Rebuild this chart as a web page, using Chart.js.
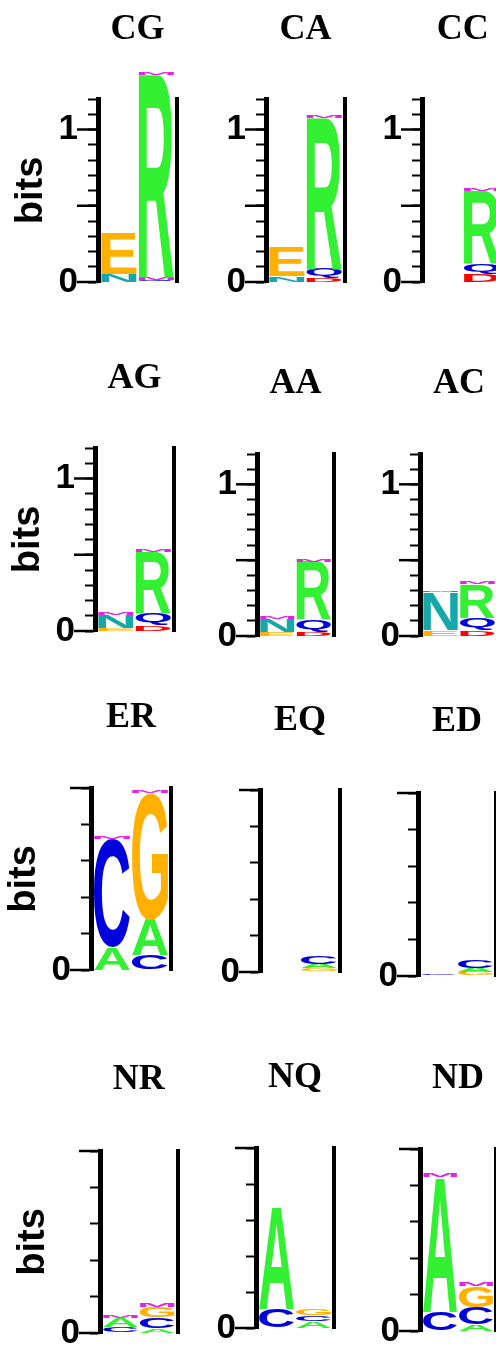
<!DOCTYPE html>
<html>
<head>
<meta charset="utf-8">
<script src="https://cdn.jsdelivr.net/npm/chart.js@4.4.1/dist/chart.umd.min.js"></script>
<style>
html,body{margin:0;padding:0;background:#fff;overflow:hidden;width:496px;height:1352px;position:relative;}
.panel{position:absolute;}
</style>
</head>
<body>
<script>
// ---------- DATA (letters bottom -> top, heights in bits; position 1 and position 2) ----------
const panelTitles = ['CG','CA','CC','AG','AA','AC','ER','EQ','ED','NR','NQ','ND'];
const positions = ['1','2'];

const CG_letters = [['N','E'], ['Q','M','R','M']];
const CG_bits    = [[0.05, 0.265], [0.012, 0.018, 1.33, 0.015]];
const CA_letters = [['N','E'], ['D','Q','R','M']];
const CA_bits    = [[0.04, 0.19], [0.025, 0.06, 0.99, 0.012]];
const CC_letters = [['D'], ['D','Q','R','M']];
const CC_bits    = [[0.005], [0.05, 0.07, 0.48, 0.012]];

const AG_letters = [['E','N','M'], ['D','Q','R','M']];
const AG_bits    = [[0.02, 0.085, 0.02], [0.04, 0.08, 0.40, 0.02]];
const AA_letters = [['E','N','M'], ['D','Q','R','M']];
const AA_bits    = [[0.025, 0.085, 0.015], [0.03, 0.08, 0.38, 0.015]];
const AC_letters = [['E','N','M'], ['D','Q','R','M']];
const AC_bits    = [[0.04, 0.25, 0.01], [0.04, 0.08, 0.22, 0.012]];

const ER_letters = [['A','C','M'], ['C','A','G','M']];
const ER_bits    = [[0.125, 0.595, 0.012], [0.08, 0.196, 0.698, 0.01]];
const EQ_letters = [['C'], ['G','A','C']];
const EQ_bits    = [[0.004], [0.02, 0.025, 0.04]];
const ED_letters = [['C'], ['G','A','C']];
const ED_bits    = [[0.012], [0.02, 0.025, 0.045]];

const NR_letters = [['C','A','M'], ['A','C','G','M']];
const NR_bits    = [[0.032, 0.048, 0.015], [0.025, 0.06, 0.06, 0.022]];
const NQ_letters = [['C','A'], ['A','C','G']];
const NQ_bits    = [[0.107, 0.572], [0.037, 0.032, 0.037]];
const ND_letters = [['C','A','M'], ['A','C','G','M']];
const ND_bits    = [[0.105, 0.74, 0.022], [0.035, 0.095, 0.115, 0.022]];

// axis per row
const rowMax      = [1.2, 1.2, 1, 1];
const rowStep     = [0.1, 0.1, 0.2, 0.2];
const rowLabelled = [[0, 1], [0, 1], [0], [0]];
const rowMajor    = [[0, 0.5, 1], [0, 0.5, 1], [0, 1], [0, 1]];

const allLetters = [CG_letters, CA_letters, CC_letters, AG_letters, AA_letters, AC_letters,
                    ER_letters, EQ_letters, ED_letters, NR_letters, NQ_letters, ND_letters];
const allBits    = [CG_bits, CA_bits, CC_bits, AG_bits, AA_bits, AC_bits,
                    ER_bits, EQ_bits, ED_bits, NR_bits, NQ_bits, ND_bits];

// ---------- LAYOUT (page pixels: axis left, right line, top, zero, title centre) ----------
const panelBox = [
  {L: 98,    R: 177, T: 99,   B: 289,  TY: 30},
  {L: 266,   R: 345, T: 99,   B: 289,  TY: 30},
  {L: 421.5, R: 503, T: 99,   B: 289,  TY: 30},
  {L: 95,    R: 174, T: 448,  B: 638,  TY: 379},
  {L: 257,   R: 334, T: 454,  B: 643,  TY: 384},
  {L: 420,   R: 498, T: 454,  B: 643,  TY: 384},
  {L: 91,    R: 171, T: 788,  B: 977,  TY: 718},
  {L: 260,   R: 340, T: 790,  B: 979,  TY: 721},
  {L: 418,   R: 496, T: 793,  B: 983,  TY: 722},
  {L: 99.5,  R: 177, T: 1151, B: 1340, TY: 1080},
  {L: 256,   R: 334, T: 1148, B: 1335, TY: 1078},
  {L: 420,   R: 496, T: 1149, B: 1338, TY: 1079}
];

const letterColors = {R: '#33f033', A: '#33f033', E: '#ffb000', G: '#ffb000',
                      N: '#16a8a8', Q: '#0000dd', C: '#0000dd', D: '#ff0000', M: '#e622e6'};

// ---------- PLUGINS ----------
const letterPlugin = {
  id: 'logoLetters',
  afterDatasetsDraw(chart) {
    const ctx = chart.ctx;
    chart.data.datasets.forEach((ds, d) => {
      const meta = chart.getDatasetMeta(d);
      meta.data.forEach((el, i) => {
        const ch = ds.letters[i];
        if (!ch) return;
        const p = el.getProps(['x', 'y', 'base', 'width'], true);
        const top = Math.min(p.y, p.base);
        const h = Math.abs(p.base - p.y);
        if (h < 0.2) return;
        const half = p.width / 2;
        const x0 = p.x - half + (i === 0 ? 3 : 1);
        const x1 = p.x + half - (i === positions.length - 1 ? 3 : 1);
        ctx.save();
        ctx.font = 'bold 100px "Liberation Sans"';
        ctx.textAlign = 'left';
        ctx.textBaseline = 'alphabetic';
        const m = ctx.measureText(ch);
        const gw = m.actualBoundingBoxLeft + m.actualBoundingBoxRight;
        const gh = m.actualBoundingBoxAscent + m.actualBoundingBoxDescent;
        ctx.translate(x0, top);
        ctx.scale((x1 - x0) / gw, h / gh);
        ctx.fillStyle = letterColors[ch];
        ctx.fillText(ch, m.actualBoundingBoxLeft, m.actualBoundingBoxAscent);
        ctx.restore();
      });
    });
  }
};

const majorTickPlugin = {
  id: 'majorTicks',
  afterDraw(chart, args, opts) {
    const ctx = chart.ctx;
    const y = chart.scales.y;
    const left = chart.chartArea.left;
    ctx.save();
    ctx.strokeStyle = '#000';
    ctx.lineWidth = 2.5;
    (opts.values || []).forEach(v => {
      const py = y.getPixelForValue(v);
      ctx.beginPath();
      ctx.moveTo(left - 21, py);
      ctx.lineTo(left, py);
      ctx.stroke();
    });
    ctx.restore();
  }
};

// ---------- BUILD ----------
panelTitles.forEach((title, k) => {
  const row = Math.floor(k / 3), col = k % 3;
  const g = panelBox[k];
  const div = document.createElement('div');
  div.className = 'panel';
  const W = g.R - g.L + 98;
  const H = g.B - g.TY + 42;
  div.style.left = (g.L - 90) + 'px';
  div.style.top = (g.TY - 18) + 'px';
  div.style.width = W + 'px';
  div.style.height = H + 'px';
  const cv = document.createElement('canvas');
  div.appendChild(cv);
  document.body.appendChild(div);

  const lets = allLetters[k], bits = allBits[k];
  const K = Math.max(lets[0].length, lets[1].length);
  const datasets = [];
  for (let j = 0; j < K; j++) {
    datasets.push({
      data: [bits[0][j] ?? 0, bits[1][j] ?? 0],
      letters: [lets[0][j] ?? null, lets[1][j] ?? null],
      backgroundColor: 'rgba(0,0,0,0)',
      borderWidth: 0,
      barPercentage: 1,
      categoryPercentage: 1,
      xAxisID: 'x',
      yAxisID: 'y'
    });
  }
  const labelled = rowLabelled[row];
  new Chart(cv, {
    type: 'bar',
    data: {labels: positions, datasets},
    plugins: [letterPlugin, majorTickPlugin],
    options: {
      responsive: true,
      maintainAspectRatio: false,
      animation: false,
      events: [],
      layout: {padding: {left: 0, right: 0, top: 0, bottom: 24}},
      plugins: {
        legend: {display: false},
        tooltip: {enabled: false},
        title: {
          display: true, text: title, fullSize: false, color: '#000',
          font: {family: 'Liberation Serif', size: 36, weight: 'bold', lineHeight: 1},
          padding: {top: 0, bottom: g.T - g.TY - 18}
        },
        majorTicks: {values: rowMajor[row]}
      },
      scales: {
        x: {display: false, stacked: true},
        y: {
          type: 'linear', position: 'left', stacked: true,
          min: 0, max: rowMax[row],
          afterFit: s => { s.width = 90; },
          ticks: {
            stepSize: rowStep[row], autoSkip: false, padding: 10, color: '#000',
            font: {family: 'Liberation Sans', size: 35, weight: 'bold'},
            callback: v => labelled.some(t => Math.abs(t - v) < 1e-6) ? String(Math.round(v)) : ''
          },
          grid: {display: true, drawOnChartArea: false, drawTicks: true, tickLength: 10, tickWidth: 2, tickColor: '#000'},
          border: {display: true, width: 5, color: '#000'},
          title: {
            display: col === 0, text: 'bits', color: '#000',
            font: {family: 'Liberation Sans', size: 38, weight: 'bold', lineHeight: 1},
            padding: {top: 5, bottom: 0}
          }
        },
        yr: {
          type: 'linear', position: 'right', min: 0, max: rowMax[row],
          afterFit: s => { s.width = 8; },
          ticks: {display: false},
          grid: {display: false},
          border: {display: true, width: 4, color: '#000'}
        }
      }
    }
  });
});
</script>
</body>
</html>
